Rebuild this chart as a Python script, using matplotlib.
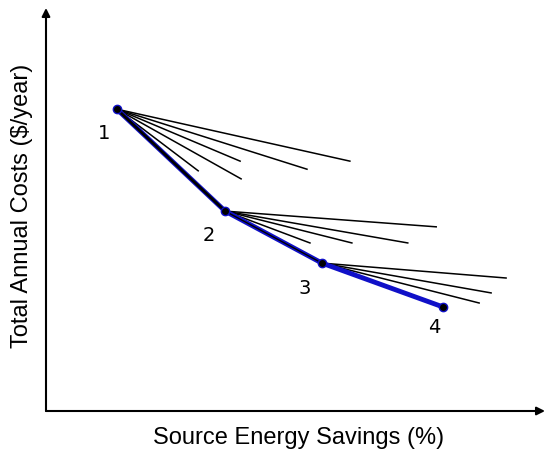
#!/usr/bin/env python3

import matplotlib
matplotlib.use('Agg')
import matplotlib.pyplot as plt

#-------------------------------------------------------------------------------
# design points along the optimal path (x = source energy savings, y = cost)
path_x = [14.2, 35.9, 55.3, 79.6]
path_y = [74.9, 49.6, 36.7, 25.8]
path_labels = ['1', '2', '3', '4']
label_dx = [-2.5, -3.3, -3.4, -1.8]
label_dy = [-6.0, -6.1, -6.3, -5.1]

# options tried from each design point (end points of the fan lines)
fan1_x = [60.9, 52.3, 38.9, 39.1, 30.5]
fan1_y = [62.0, 60.0, 62.0, 57.6, 59.6]
fan2_x = [78.2, 72.5, 61.3, 52.9]
fan2_y = [45.7, 41.7, 41.7, 41.7]
fan3_x = [92.2, 89.2, 86.8]
fan3_y = [33.0, 29.3, 26.8]

#-------------------------------------------------------------------------------

fig = plt.figure(figsize=(5.46, 4.53), dpi=100)
ax = fig.add_axes([46/546, 42/453, 499/546, 403/453])
ax.set_xlim(0, 100)
ax.set_ylim(0, 100)
ax.axis('off')

fans = [(fan1_x, fan1_y), (fan2_x, fan2_y), (fan3_x, fan3_y)]
for i, (fx, fy) in enumerate(fans):
    for x, y in zip(fx, fy):
        ax.plot([path_x[i], x], [path_y[i], y], color='black', lw=1.1)

ax.plot(path_x, path_y, color='#1010c8', lw=3.5, solid_capstyle='round', zorder=3)
ax.plot(path_x[:2], path_y[:2], color='black', lw=2.0, zorder=4)
ax.plot(path_x[1:3], path_y[1:3], color='black', lw=1.0, zorder=4)
ax.plot(path_x, path_y, 'o', color='black', mec='#1010c8', ms=6, mew=1, zorder=5)

for x, y, t, dx, dy in zip(path_x, path_y, path_labels, label_dx, label_dy):
    ax.text(x + dx, y + dy, t, fontsize=14, family='DejaVu Sans',
            ha='center', va='center')

# axes drawn as arrows
ax.annotate('', xy=(0, 1.0), xytext=(0, 0), xycoords='axes fraction',
            arrowprops=dict(arrowstyle='-|>', color='black', lw=1.5,
                            mutation_scale=12, shrinkA=0, shrinkB=0))
ax.annotate('', xy=(1.0, 0), xytext=(0, 0), xycoords='axes fraction',
            arrowprops=dict(arrowstyle='-|>', color='black', lw=1.5,
                            mutation_scale=12, shrinkA=0, shrinkB=0))

fig.text(299/546, 1 - 438/453, 'Source Energy Savings (%)', fontsize=17,
         family='Liberation Sans', ha='center', va='center')
fig.text(22/546, 1 - 206/453, 'Total Annual Costs ($/year)', fontsize=17,
         family='Liberation Sans', ha='center', va='center', rotation=90)

fig.savefig('out.png', dpi=100)
